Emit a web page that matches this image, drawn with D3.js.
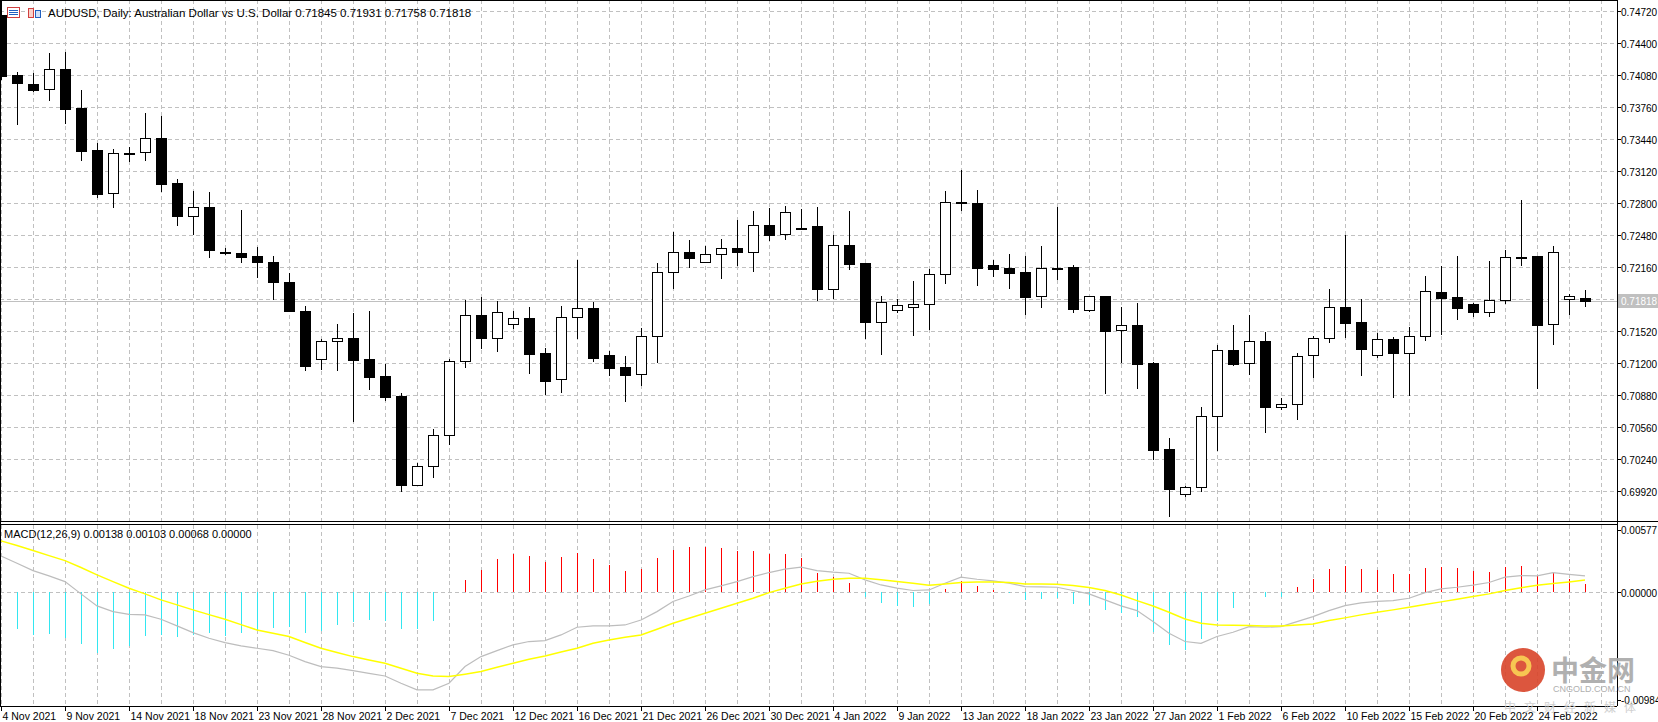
<!DOCTYPE html>
<html>
<head>
<meta charset="utf-8">
<script src="https://cdn.jsdelivr.net/npm/d3@7"></script>
<style>
  body { margin: 0; background: #fff; }
  svg { display: block; font-family: Tahoma, "Liberation Sans", Arial, sans-serif; }
</style>
</head>
<body>
<script>
// daily candles, 4 Nov 2021 .. 28 Feb 2022
const opens  = [.7468,.7408,.7399,.7394,.7414,.7375,.7333,.7290,.7330,.7331,.7345,.7300,.7267,.7276,.7231,.7230,.7227,.7221,.7201,.7172,
  .7124,.7142,.7145,.7124,.7107,.7087,.6998,.7017,.7048,.7122,.7168,.7145,.7159,.7165,.7130,.7104,.7166,.7175,.7128,.7116,
  .7109,.7147,.7211,.7231,.7221,.7229,.7235,.7231,.7258,.7249,.7254,.7257,.7194,.7238,.7220,.7161,.7173,.7176,.7179,.7209,
  .7281,.7280,.7218,.7215,.7211,.7187,.7215,.7216,.7173,.7187,.7153,.7158,.7120,.7034,.6989,.6996,.7067,.7133,.7120,.7142,
  .7076,.7079,.7128,.7145,.7176,.7161,.7128,.7144,.7130,.7147,.7191,.7186,.7179,.7171,.7183,.7226,.7227,.7159,.7184,.71845];
const highs  = [.7483,.7411,.7410,.7430,.7431,.7393,.7340,.7334,.7336,.7370,.7367,.7304,.7292,.7291,.7235,.7273,.7236,.7227,.7210,.7177,
  .7144,.7159,.7170,.7172,.7119,.7090,.7020,.7054,.7124,.7183,.7186,.7182,.7172,.7176,.7135,.7177,.7223,.7181,.7132,.7127,
  .7155,.7220,.7251,.7243,.7237,.7244,.7263,.7272,.7275,.7277,.7274,.7276,.7248,.7272,.7220,.7187,.7184,.7202,.7214,.7292,
  .7313,.7293,.7223,.7229,.7227,.7237,.7276,.7218,.7187,.7187,.7176,.7180,.7121,.7045,.6997,.7076,.7138,.7158,.7168,.7151,
  .7085,.7130,.7147,.7194,.7248,.7184,.7150,.7146,.7156,.7207,.7217,.7227,.7180,.7222,.7233,.7283,.7227,.7237,.7189,.71931];
const lows   = [.7403,.7358,.7391,.7382,.7359,.7322,.7285,.7275,.7321,.7322,.7291,.7257,.7248,.7225,.7228,.7220,.7205,.7183,.7171,.7112,
  .7113,.7112,.7061,.7093,.7082,.6991,.6997,.7005,.7038,.7115,.7134,.7131,.7154,.7109,.7088,.7090,.7144,.7121,.7107,.7081,
  .7097,.7120,.7194,.7215,.7221,.7204,.7217,.7211,.7242,.7243,.7254,.7182,.7184,.7213,.7144,.7128,.7170,.7147,.7153,.7199,
  .7272,.7197,.7206,.7194,.7168,.7175,.7203,.7170,.7171,.7089,.7120,.7094,.7023,.6966,.6986,.6991,.7032,.7117,.7108,.7050,
  .7073,.7063,.7105,.7140,.7145,.7107,.7125,.7085,.7087,.7142,.7148,.7163,.7166,.7166,.7179,.7217,.7094,.7138,.7168,.71758];
const closes = [.7407,.7400,.7393,.7414,.7374,.7332,.7289,.7330,.7329,.7345,.7299,.7267,.7276,.7233,.7230,.7226,.7221,.7201,.7172,.7117,
  .7142,.7145,.7123,.7106,.7086,.6998,.7017,.7048,.7122,.7168,.7145,.7171,.7165,.7129,.7102,.7166,.7175,.7125,.7115,.7108,
  .7147,.7211,.7231,.7225,.7229,.7235,.7231,.7258,.7248,.7271,.7255,.7194,.7238,.7219,.7161,.7181,.7178,.7179,.7209,.7281,
  .7280,.7215,.7214,.7210,.7186,.7215,.7214,.7174,.7187,.7152,.7158,.7119,.7033,.6994,.6996,.7067,.7133,.7119,.7142,.7076,
  .7079,.7127,.7145,.7176,.7160,.7134,.7144,.7130,.7147,.7192,.7185,.7175,.7171,.7183,.7226,.7225,.7158,.7231,.7187,.71818];

// MACD(12,26,9) in units of 0.00001
const macdPts = [310,247,184,138,89,-17,-121,-170,-193,-198,-236,-293,-351,-400,-437,-466,-486,-506,-546,-601,
  -644,-658,-679,-702,-725,-788,-845,-845,-788,-644,-558,-506,-457,-428,-420,-371,-305,-293,-293,-285,
  -242,-170,-83,-35,17,52,89,132,167,196,213,184,170,161,104,60,32,12,17,75,
  127,109,95,75,46,43,40,12,-17,-69,-121,-161,-256,-357,-428,-443,-385,-348,-299,-305,
  -299,-256,-213,-161,-118,-95,-81,-75,-55,-6,26,40,58,81,127,141,138,167,152,138];
const signalPts = [440,400,357,313,270,210,147,89,32,-17,-69,-112,-155,-196,-236,-282,-328,-357,-385,-437,
  -486,-523,-558,-587,-615,-658,-702,-725,-730,-710,-687,-650,-615,-581,-552,-518,-486,-443,-414,-391,
  -371,-322,-270,-227,-184,-141,-98,-55,-6,32,69,92,109,118,118,104,89,75,58,69,
  81,86,86,81,69,69,66,55,37,12,-26,-75,-121,-175,-233,-270,-285,-288,-290,-293,
  -293,-285,-276,-247,-224,-198,-175,-155,-132,-109,-86,-63,-40,-17,12,35,58,72,86,103];
const histPts = [null,-322,-371,-359,-400,-446,-523,-489,-463,-377,-371,-388,-371,-357,-377,-351,-328,-311,-305,-357,
  -336,-282,-256,-242,-247,-316,-316,-247,0,104,190,285,331,311,262,302,336,285,233,181,
  198,293,362,388,388,380,354,354,331,325,296,161,132,78,-46,-95,-121,-132,-101,26,
  92,52,20,-12,-69,-60,-49,-101,-112,-155,-184,-213,-348,-457,-500,-402,-253,-138,0,-40,
  -40,43,112,198,224,198,190,155,155,207,216,204,181,173,216,224,138,164,112,68];

const dateLabels = ['4 Nov 2021','9 Nov 2021','14 Nov 2021','18 Nov 2021','23 Nov 2021','28 Nov 2021','2 Dec 2021',
  '7 Dec 2021','12 Dec 2021','16 Dec 2021','21 Dec 2021','26 Dec 2021','30 Dec 2021','4 Jan 2022','9 Jan 2022',
  '13 Jan 2022','18 Jan 2022','23 Jan 2022','27 Jan 2022','1 Feb 2022','6 Feb 2022','10 Feb 2022','15 Feb 2022',
  '20 Feb 2022','24 Feb 2022'];
const priceTicks = [0.6992,0.7024,0.7056,0.7088,0.7120,0.7152,0.7184,0.7216,0.7248,0.7280,0.7312,0.7344,0.7376,0.7408,0.7440,0.7472];
const lastPrice = 0.71818;

const width = 1658, height = 722;
const axisX = 1617;

const svg = d3.select('body').append('svg')
  .attr('width', width).attr('height', height)
  .attr('shape-rendering', 'crispEdges');

const x = d3.scaleLinear().domain([0, 99]).range([1, 1585]);
const y = d3.scaleLinear().domain([0.6992, 0.7472]).range([491, 11]);
const ym = d3.scaleLinear().domain([-0.00984, 0.00577]).range([706, 525]);

svg.append('clipPath').attr('id', 'cp').append('rect')
  .attr('x', 0).attr('y', 0).attr('width', axisX).attr('height', 521);
svg.append('clipPath').attr('id', 'cm').append('rect')
  .attr('x', 0).attr('y', 525).attr('width', axisX).attr('height', 181);

const grid = '#c0c0c0';

// vertical grid
const vIdx = d3.range(0, 101, 2);
[[0, 521], [525, 706]].forEach(([a, b]) => {
  svg.append('g').selectAll('line').data(vIdx).join('line')
    .attr('x1', d => Math.round(x(d)) + 0.5).attr('x2', d => Math.round(x(d)) + 0.5)
    .attr('y1', a).attr('y2', b)
    .attr('stroke', grid).attr('stroke-dasharray', '4,3');
});

// horizontal grid
svg.append('g').selectAll('line').data(priceTicks).join('line')
  .attr('x1', 0).attr('x2', axisX)
  .attr('y1', d => Math.round(y(d)) + 0.5).attr('y2', d => Math.round(y(d)) + 0.5)
  .attr('stroke', grid).attr('stroke-dasharray', '4,3');
svg.append('line').attr('x1', 0).attr('x2', axisX)
  .attr('y1', Math.round(ym(0)) + 0.5).attr('y2', Math.round(ym(0)) + 0.5)
  .attr('stroke', grid).attr('stroke-dasharray', '4,3');

// current price line
svg.append('line').attr('x1', 0).attr('x2', axisX)
  .attr('y1', Math.round(y(lastPrice)) + 0.5).attr('y2', Math.round(y(lastPrice)) + 0.5)
  .attr('stroke', '#c0c0c0');

// candles
const candles = svg.append('g').attr('clip-path', 'url(#cp)')
  .selectAll('g').data(d3.range(100)).join('g');
candles.append('line')
  .attr('x1', i => Math.round(x(i)) + 0.5).attr('x2', i => Math.round(x(i)) + 0.5)
  .attr('y1', i => Math.round(y(highs[i]))).attr('y2', i => Math.round(y(lows[i])))
  .attr('stroke', '#000');
candles.append('rect')
  .attr('x', i => Math.round(x(i)) - 4.5)
  .attr('y', i => Math.round(y(Math.max(opens[i], closes[i]))) + 0.5)
  .attr('width', 10)
  .attr('height', i => Math.max(1, Math.round(y(Math.min(opens[i], closes[i]))) - Math.round(y(Math.max(opens[i], closes[i])))))
  .attr('fill', i => closes[i] < opens[i] ? '#000' : '#fff')
  .attr('stroke', '#000');

// MACD histogram
const mg = svg.append('g').attr('clip-path', 'url(#cm)');
mg.selectAll('line.h').data(d3.range(100).filter(i => histPts[i])).join('line')
  .attr('class', 'h')
  .attr('x1', i => Math.round(x(i)) + 0.5).attr('x2', i => Math.round(x(i)) + 0.5)
  .attr('y1', Math.round(ym(0))).attr('y2', i => Math.round(ym(histPts[i] / 1e5)))
  .attr('stroke', i => histPts[i] > 0 ? '#ff0000' : '#33e6f0').attr('stroke-width', 1.3);

const lineGen = arr => d3.line().x((d, i) => x(i)).y(d => ym(d / 1e5))(arr);
mg.append('path').attr('d', lineGen(macdPts)).attr('fill', 'none')
  .attr('stroke', '#bdbdbd').attr('stroke-width', 1.2).attr('shape-rendering', 'auto');
mg.append('path').attr('d', lineGen(signalPts)).attr('fill', 'none')
  .attr('stroke', '#ffff00').attr('stroke-width', 1.5).attr('shape-rendering', 'auto');

// frames
svg.append('line').attr('x1', axisX + 0.5).attr('x2', axisX + 0.5).attr('y1', 0).attr('y2', 706).attr('stroke', '#000');
svg.append('line').attr('x1', 0.5).attr('x2', 0.5).attr('y1', 0).attr('y2', 706).attr('stroke', '#000');
svg.append('line').attr('x1', 0).attr('x2', axisX).attr('y1', 0.5).attr('y2', 0.5).attr('stroke', '#000');
svg.append('line').attr('x1', 0).attr('x2', width).attr('y1', 521.5).attr('y2', 521.5).attr('stroke', '#000');
svg.append('line').attr('x1', 0).attr('x2', axisX).attr('y1', 524.5).attr('y2', 524.5).attr('stroke', '#000');
svg.append('line').attr('x1', 0).attr('x2', axisX).attr('y1', 706.5).attr('y2', 706.5).attr('stroke', '#000');

// right axis
const ra = svg.append('g').attr('font-size', 10).attr('fill', '#000');
const ly = Math.round(y(lastPrice));
priceTicks.forEach(p => {
  const yy = Math.round(y(p)) + 0.5;
  ra.append('line').attr('x1', axisX).attr('x2', axisX + 4).attr('y1', yy).attr('y2', yy).attr('stroke', '#000');
  if (Math.abs(yy - ly) > 10) ra.append('text').attr('x', axisX + 4).attr('y', yy + 4).text(p.toFixed(5));
});
ra.append('rect').attr('x', axisX + 1).attr('y', ly - 7).attr('width', 40).attr('height', 14).attr('fill', '#c0c0c0');
ra.append('text').attr('x', axisX + 4).attr('y', ly + 4).attr('fill', '#fff').text(lastPrice.toFixed(5));

[0.00577, 0, -0.00984].forEach((v, k) => {
  const yy = k === 0 ? 530 : k === 2 ? 700 : Math.round(ym(0)) + 0.5;
  ra.append('line').attr('x1', axisX).attr('x2', axisX + 4).attr('y1', yy).attr('y2', yy).attr('stroke', '#000');
  ra.append('text').attr('x', axisX + 4).attr('y', yy + 4).text(v.toFixed(5));
});

// bottom axis
const ba = svg.append('g').attr('font-size', 10.5);
dateLabels.forEach((t, k) => {
  const xx = Math.round(x(k * 4)) + 0.5;
  ba.append('line').attr('x1', xx).attr('x2', xx).attr('y1', 706).attr('y2', 711).attr('stroke', '#000');
  ba.append('text').attr('x', xx + 1).attr('y', 720).text(t);
});

// header
const hd = svg.append('g');
hd.append('rect').attr('x', 7.5).attr('y', 7.5).attr('width', 12).attr('height', 10).attr('fill', '#fff').attr('stroke', '#d04040');
[10.5, 12.5, 14.5].forEach(yy => hd.append('line').attr('x1', 9).attr('x2', 18).attr('y1', yy).attr('y2', yy).attr('stroke', '#2060c0'));
hd.append('rect').attr('x', 28.5).attr('y', 8.5).attr('width', 5).attr('height', 9).attr('fill', '#fbd0c8').attr('stroke', '#d04040');
hd.append('rect').attr('x', 35.5).attr('y', 10.5).attr('width', 5).attr('height', 7).attr('fill', '#cfe0f8').attr('stroke', '#2060c0');
hd.append('text').attr('x', 48).attr('y', 17).attr('font-size', 11.5)
  .text('AUDUSD, Daily:  Australian Dollar vs U.S. Dollar  0.71845 0.71931 0.71758 0.71818');
svg.append('text').attr('x', 4).attr('y', 538).attr('font-size', 11)
  .text('MACD(12,26,9) 0.00138 0.00103 0.00068 0.00000');

// watermark
const wm = svg.append('g').attr('opacity', 0.9);
wm.append('circle').attr('cx', 1523).attr('cy', 670).attr('r', 22).attr('fill', '#d9442a').attr('shape-rendering', 'auto');
wm.append('circle').attr('cx', 1521).attr('cy', 666).attr('r', 8).attr('fill', 'none')
  .attr('stroke', '#f7c040').attr('stroke-width', 5).attr('shape-rendering', 'auto');
wm.append('text').attr('x', 1551).attr('y', 681).attr('font-size', 28).attr('font-weight', 'bold')
  .attr('font-family', '"Noto Sans CJK SC"').attr('fill', '#a8a8a8').text('中金网');
wm.append('text').attr('x', 1553).attr('y', 692).attr('font-size', 9).attr('fill', '#a8a8a8').text('CNGOLD.COM.CN');
wm.append('text').attr('x', 1504).attr('y', 712).attr('font-size', 12).attr('letter-spacing', 8)
  .attr('font-family', '"Noto Sans CJK SC"').attr('fill', '#cccccc').text('中文财经新媒体');
</script>
</body>
</html>
